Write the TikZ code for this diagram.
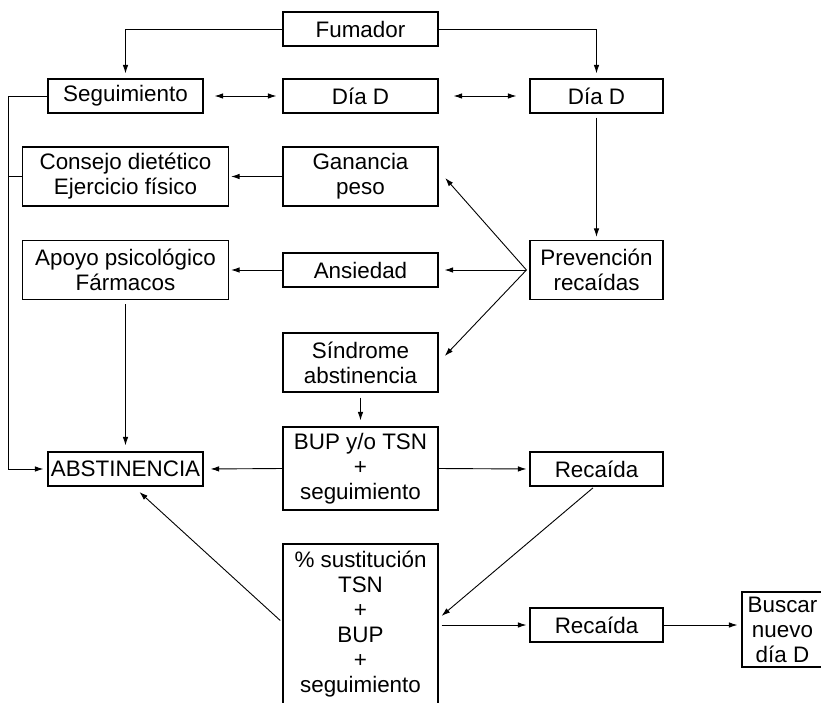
\documentclass[tikz,border=0pt]{standalone}
\usepackage{fontspec}
\setmainfont{Liberation Sans}
\usetikzlibrary{arrows.meta}
\begin{document}
\begin{tikzpicture}[x=1pt,y=-1pt,
 box/.style={draw,line width=1.1pt,align=center,inner sep=0pt,font=\fontsize{22.4}{25}\selectfont},
 arr/.style={line width=0.9pt,-{Latex[length=8.5pt,width=5.5pt]}},
 darr/.style={line width=0.9pt,{Latex[length=8.5pt,width=5.5pt]}-{Latex[length=8.5pt,width=5.5pt]}},
 ln/.style={line width=0.9pt}]
\useasboundingbox (0,0) rectangle (821,702);
% nodes
\node[box,minimum width=155pt,minimum height=34pt] (fum) at (360.5,29) {Fumador};
\node[box,minimum width=155pt,minimum height=34pt] (seg) at (125.5,96) {Seguimiento};
\node[box,minimum width=155pt,minimum height=34pt] (dia1) at (360.5,96) {Día D};
\node[box,minimum width=133pt,minimum height=34pt] (dia2) at (596.5,96) {Día D};
\node[box,minimum width=206pt,minimum height=59pt] (con) at (125.5,176.5) {Consejo dietético\\Ejercicio físico};
\node[box,minimum width=155pt,minimum height=59pt] (gan) at (360.5,176.5) {Ganancia\\peso};
\node[box,minimum width=206pt,minimum height=59pt] (apo) at (125.5,270) {Apoyo psicológico\\Fármacos};
\node[box,minimum width=155pt,minimum height=34pt] (ans) at (360.5,270) {Ansiedad};
\node[box,minimum width=133pt,minimum height=59pt] (pre) at (596.5,270) {Prevención\\recaídas};
\node[box,minimum width=155pt,minimum height=59pt] (sin) at (360.5,362.5) {Síndrome\\abstinencia};
\node[box,minimum width=155pt,minimum height=83pt] (bup) at (360.5,468.5) {BUP y/o TSN\\+\\seguimiento};
\node[box,minimum width=155pt,minimum height=34pt] (abs) at (125.5,469) {ABSTINENCIA};
\node[box,minimum width=133pt,minimum height=34pt] (rec1) at (596.5,469) {Recaída};
\node[box,minimum width=155pt,minimum height=161pt] (sus) at (360.5,624.5) {\% sustitución\\TSN\\+\\BUP\\+\\seguimiento};
\node[box,minimum width=133pt,minimum height=34pt] (rec2) at (596.5,625) {Recaída};
\node[box,minimum width=81pt,minimum height=75pt] (bus) at (782.5,629.5) {Buscar\\nuevo\\día D};
% helper coordinates
\coordinate (fan) at ([xshift=-3pt]pre.west);
\coordinate (lx) at (8,96);
% connectors
\draw[arr,shorten >=5pt] (fum.west) -| (seg.north);
\draw[arr,shorten >=5pt] (fum.east) -| (dia2.north);
\draw[darr,shorten <=11pt,shorten >=6pt] (seg.east) -- (dia1.west);
\draw[darr,shorten <=15pt,shorten >=13pt] (dia1.east) -- (dia2.west);
\draw[arr,shorten <=4pt,shorten >=3pt] (dia2.south) -- (pre.north);
\draw[arr,shorten >=2pt] (gan.west) -- (con.east);
\draw[arr,shorten >=10pt] (fan) -- ([yshift=6pt]gan.east);
\draw[arr,shorten >=6pt] (fan) -- (ans.east);
\draw[arr,shorten >=9pt] (fan) -- (sin.east);
\draw[arr,shorten >=2pt] (ans.west) -- (apo.east);
\draw[arr,shorten <=4pt,shorten >=6pt] (apo.south) -- (abs.north);
\draw[arr,shorten >=4pt] (seg.west) -- (lx) |- (abs.west);
\draw[ln] (con.west) -- (con.west -| lx);
\draw[arr,shorten <=5pt,shorten >=6pt] (sin.south) -- (bup.north);
\draw[arr,shorten >=7pt] (bup.west) -- (abs.east);
\draw[arr,shorten >=3pt] (bup.east) -- (rec1.west);
\draw[arr,shorten <=2pt,shorten >=4pt] ([xshift=-2pt]rec1.south) -- ([yshift=6pt]sus.east);
\draw[arr,shorten <=3pt,shorten >=8pt] ([yshift=2pt]sus.west) -- ([xshift=8pt]abs.south);
\draw[arr,shorten <=3pt,shorten >=3pt] (sus.east |- rec2.west) -- (rec2.west);
\draw[arr,shorten >=4pt] (rec2.east) -- (rec2.east -| bus.west);
\end{tikzpicture}
\end{document}
